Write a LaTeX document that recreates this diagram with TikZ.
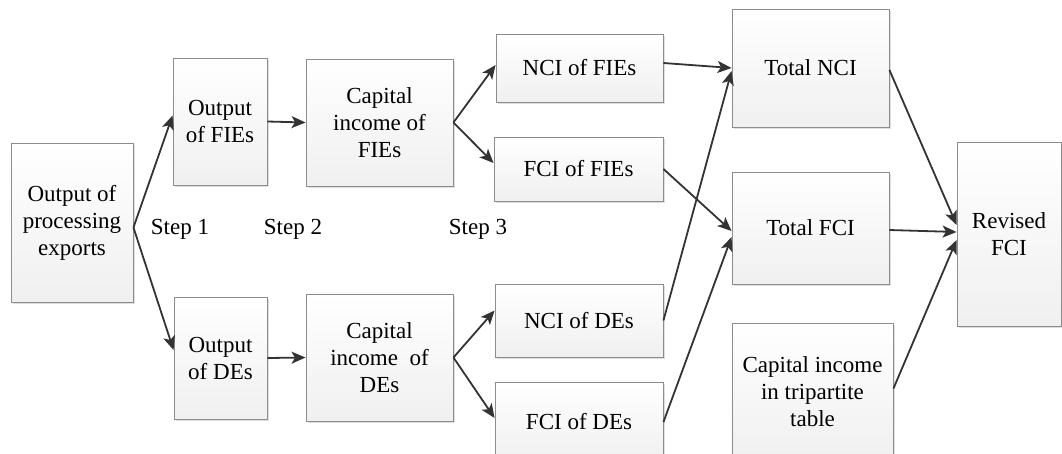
\documentclass[tikz,border=0pt]{standalone}
\usepackage{fontspec}
\setmainfont{Liberation Serif}
\usetikzlibrary{arrows.meta,shadows}
\begin{document}
\begin{tikzpicture}[x=1pt,y=-1pt,
  box/.style={draw=black!45, line width=0.9pt, top color=white, bottom color=black!6,
    drop shadow={shadow xshift=1.5pt, shadow yshift=-1.5pt, fill=black!18, opacity=0.7},
    align=center, inner sep=2pt, font=\fontsize{23}{27}\selectfont},
  lbl/.style={font=\fontsize{23}{27}\selectfont, inner sep=0pt},
  conn/.style={draw=black!80, line width=1.8pt, -{Stealth[length=14pt,width=12pt,inset=3.5pt]}}]
\useasboundingbox (0,0) rectangle (1062,453);
\node[box, minimum width=122pt, minimum height=159pt] (pe) at (72,222.5) {Output of\\processing\\exports};
\node[box, minimum width=94pt, minimum height=127pt] (ofie) at (220,121.5) {Output\\of FIEs};
\node[box, minimum width=93pt, minimum height=122pt] (ode) at (220.5,358) {Output\\of DEs};
\node[box, minimum width=147pt, minimum height=127pt] (cfie) at (379.5,122.5) {Capital\\income of\\FIEs};
\node[box, minimum width=147pt, minimum height=127pt] (cde) at (379.5,357.5) {Capital\\income\ \ of\\DEs};
\node[box, minimum width=167pt, minimum height=68pt] (nfie) at (579.5,68) {NCI of FIEs};
\node[box, minimum width=169pt, minimum height=64pt] (ffie) at (578.5,169) {FCI of FIEs};
\node[box, minimum width=168pt, minimum height=73pt] (nde) at (579,320.5) {NCI of DEs};
\node[box, minimum width=168pt, minimum height=80pt] (fde) at (579,422) {FCI of DEs};
\node[box, minimum width=157pt, minimum height=118pt] (tnci) at (810.5,68) {Total NCI};
\node[box, minimum width=157pt, minimum height=112pt] (tfci) at (810.5,228) {Total FCI};
\node[box, minimum width=161pt, minimum height=137pt] (cit) at (812.5,391.5) {Capital income\\in tripartite\\table};
\node[box, minimum width=104pt, minimum height=184pt] (rfci) at (1009,234) {Revised\\FCI};
\node[lbl] (s1) at (180,229) {Step 1};
\node[lbl] (s2) at (293,229) {Step 2};
\node[lbl] (s3) at (478,229) {Step 3};
\draw[conn] ([yshift=-5pt]pe.east) -- ([yshift=6pt]ofie.west);
\draw[conn] ([yshift=-5pt]pe.east) -- ([yshift=8pt]ode.west);
\draw[conn] (ofie.east) -- (cfie.west);
\draw[conn] (ode.east) -- (cde.west);
\draw[conn] (cfie.east) -- ([yshift=3pt]nfie.west);
\draw[conn] (cfie.east) -- ([yshift=6pt]ffie.west);
\draw[conn] (cde.east) -- ([yshift=10pt]nde.west);
\draw[conn] (cde.east) -- ([yshift=4pt]fde.west);
\draw[conn] ([yshift=5pt]nfie.east) -- (tnci.west);
\draw[conn] (nde.east) -- ([yshift=-3pt]tnci.west);
\draw[conn] (ffie.east) -- ([yshift=-3pt]tfci.west);
\draw[conn] (fde.east) -- ([yshift=-9pt]tfci.west);
\draw[conn] ([yshift=-2pt]tnci.east) -- ([yshift=9pt]rfci.west);
\draw[conn] ([yshift=-2pt]tfci.east) -- ([yshift=2pt]rfci.west);
\draw[conn] ([yshift=3pt]cit.east) -- ([yshift=-6pt]rfci.west);
\end{tikzpicture}
\end{document}
